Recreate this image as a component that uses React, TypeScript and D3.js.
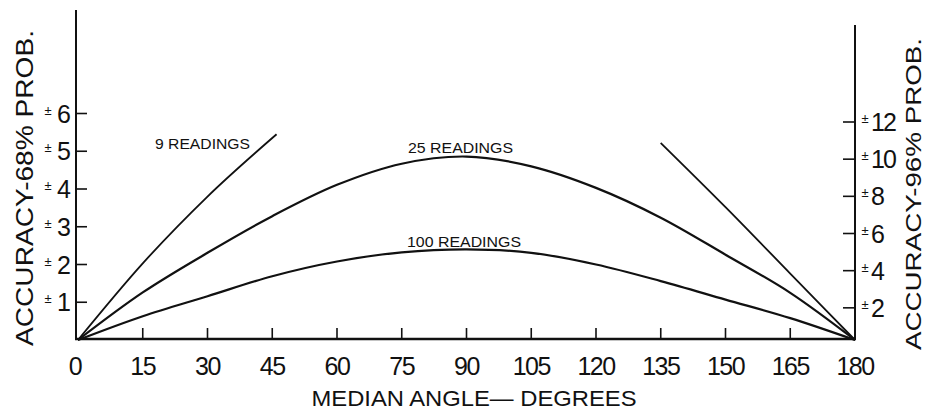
import React from "react";
import * as d3 from "d3";

const angles = [0, 15, 30, 45, 60, 75, 90, 105, 120, 135, 150, 165, 180];
const readings25 = [0, 1.26, 2.31, 3.28, 4.11, 4.67, 4.86, 4.6, 4.03, 3.24, 2.26, 1.25, 0];
const readings100 = [0, 0.63, 1.16, 1.69, 2.08, 2.32, 2.4, 2.31, 2.0, 1.56, 1.07, 0.58, 0];
const nineLeftAngles = [0, 15, 30, 46];
const nineLeftValues = [0, 2.03, 3.8, 5.45];
const nineRightAngles = [135, 150, 165, 180];
const nineRightValues = [5.22, 3.52, 1.76, 0];
const leftTicks = [1, 2, 3, 4, 5, 6];
const rightTicks = [2, 4, 6, 8, 10, 12];
const xTicks = [0, 15, 30, 45, 60, 75, 90, 105, 120, 135, 150, 165, 180];

const W = 926;
const H = 419;
const FONT = "'Liberation Sans', 'DejaVu Sans', sans-serif";

export default function App() {
  const x = d3.scaleLinear().domain([0, 180]).range([78, 855]);
  const yL = d3.scaleLinear().domain([0, 6]).range([340, 113.5]);
  const yR = d3.scaleLinear().domain([0, 12]).range([345, 122]);

  const curve = d3
    .line<[number, number]>()
    .x((d) => x(d[0]))
    .y((d) => yL(d[1]))
    .curve(d3.curveCatmullRom.alpha(0.5));
  const straight = d3
    .line<[number, number]>()
    .x((d) => x(d[0]))
    .y((d) => yL(d[1]))
    .curve(d3.curveMonotoneX);

  const s25 = angles.map((a, i) => [a, readings25[i]] as [number, number]);
  const s100 = angles.map((a, i) => [a, readings100[i]] as [number, number]);
  const s9a = nineLeftAngles.map((a, i) => [a, nineLeftValues[i]] as [number, number]);
  const s9b = nineRightAngles.map((a, i) => [a, nineRightValues[i]] as [number, number]);

  const axisY = 339;

  return (
    <div style={{ position: "absolute", left: 0, top: 0 }}>
      <svg width={W} height={H} style={{ display: "block", background: "#fff" }}>
        {/* axes */}
        <line x1={76} y1={10} x2={76} y2={axisY + 1} stroke="#111" strokeWidth={2} />
        <line x1={855} y1={25} x2={855} y2={axisY + 1} stroke="#111" strokeWidth={2} />
        <line x1={75} y1={axisY} x2={856} y2={axisY} stroke="#111" strokeWidth={2.5} />

        {/* x ticks */}
        {xTicks.map((t) => (
          <g key={"xt" + t}>
            {t > 0 && t < 180 && (
              <line x1={x(t)} x2={x(t)} y1={axisY} y2={axisY - 11} stroke="#111" strokeWidth={1.6} />
            )}
            <text
              x={x(t) + (t === 0 ? -3 : 0)}
              y={375}
              textAnchor="middle"
              fontFamily={FONT}
              fontSize={25}
              letterSpacing={-1.5}
              fill="#111"
            >
              {t}
            </text>
          </g>
        ))}

        {/* left ticks */}
        {leftTicks.map((t) => (
          <g key={"lt" + t}>
            <line x1={76} x2={87} y1={yL(t)} y2={yL(t)} stroke="#111" strokeWidth={1.6} />
            <text x={48} y={yL(t) + 1} textAnchor="middle" fontFamily={FONT} fontSize={13} fill="#111">
              ±
            </text>
            <text x={64} y={yL(t) + 9} textAnchor="middle" fontFamily={FONT} fontSize={25} fill="#111">
              {t}
            </text>
          </g>
        ))}

        {/* right ticks */}
        {rightTicks.map((t) => (
          <g key={"rt" + t}>
            <line x1={843} x2={855} y1={yR(t)} y2={yR(t)} stroke="#111" strokeWidth={1.6} />
            <text x={865} y={yR(t) + 1} textAnchor="middle" fontFamily={FONT} fontSize={13} fill="#111">
              ±
            </text>
            <text x={871} y={yR(t) + 9} textAnchor="start" fontFamily={FONT} fontSize={25} letterSpacing={-2} fill="#111">
              {t}
            </text>
          </g>
        ))}

        {/* curves */}
        <path d={curve(s25) || ""} fill="none" stroke="#111" strokeWidth={2.2} />
        <path d={curve(s100) || ""} fill="none" stroke="#111" strokeWidth={2.2} />
        <path d={straight(s9a) || ""} fill="none" stroke="#111" strokeWidth={1.8} />
        <path d={straight(s9b) || ""} fill="none" stroke="#111" strokeWidth={1.8} />

        {/* series labels */}
        <text x={155} y={149} fontFamily={FONT} fontSize={15} textLength={95} lengthAdjust="spacingAndGlyphs" fill="#111">
          9 READINGS
        </text>
        <text x={408} y={153} fontFamily={FONT} fontSize={15} textLength={105} lengthAdjust="spacingAndGlyphs" fill="#111">
          25 READINGS
        </text>
        <text x={407} y={247} fontFamily={FONT} fontSize={15} textLength={114} lengthAdjust="spacingAndGlyphs" fill="#111">
          100 READINGS
        </text>

        {/* axis titles */}
        <text x={474} y={406} textAnchor="middle" fontFamily={FONT} fontSize={22} textLength={325} lengthAdjust="spacingAndGlyphs" fill="#111">
          MEDIAN ANGLE— DEGREES
        </text>
        <text
          transform="translate(33,188) rotate(-90)"
          textAnchor="middle"
          fontFamily={FONT}
          fontSize={23}
          textLength={316}
          lengthAdjust="spacingAndGlyphs"
          fill="#111"
        >
          ACCURACY-68% PROB.
        </text>
        <text
          transform="translate(921,194) rotate(-90)"
          textAnchor="middle"
          fontFamily={FONT}
          fontSize={22}
          textLength={312}
          lengthAdjust="spacingAndGlyphs"
          fill="#111"
        >
          ACCURACY-96% PROB.
        </text>
      </svg>
    </div>
  );
}
